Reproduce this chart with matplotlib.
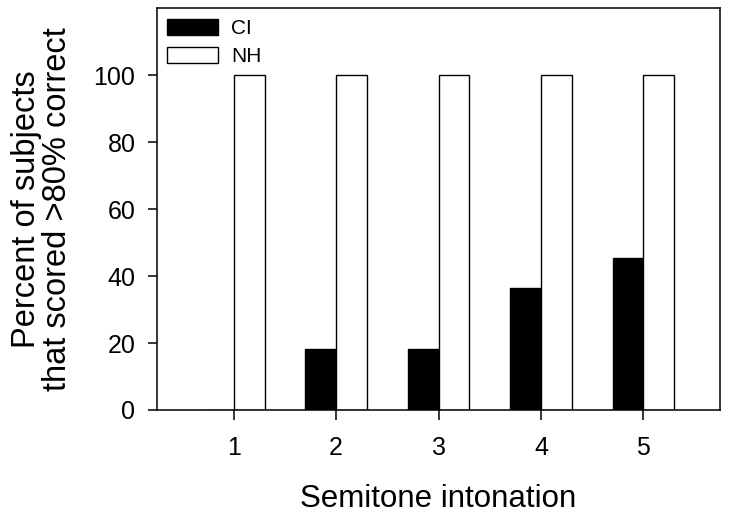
import numpy as np
import matplotlib.pyplot as plt

plt.rcParams['font.family'] = ['Liberation Sans', 'DejaVu Sans']

# data
semitones = [1, 2, 3, 4, 5]
ci_values = [0, 18.18, 18.18, 36.36, 45.45]
nh_values = [100, 100, 100, 100, 100]

if __name__ == "__main__":
    fig = plt.figure(figsize=(7.29, 5.18), dpi=100)
    ax = fig.add_axes([0.2154, 0.2085, 0.7723, 0.7755])

    x = np.array(semitones)
    width = 0.3
    ax.bar(x - width / 2, ci_values, width, color="black", edgecolor="black",
           linewidth=1.0, label="CI")
    ax.bar(x + width / 2, nh_values, width, color="white", edgecolor="black",
           linewidth=1.0, label="NH")

    ax.set_xlim(0.25, 5.75)
    ax.set_ylim(0, 120)
    ax.set_xticks(semitones)
    ax.set_yticks([0, 20, 40, 60, 80, 100])

    for s in ax.spines.values():
        s.set_linewidth(1.1)
    ax.tick_params(direction="out", width=1.1, labelsize=18)
    ax.tick_params(axis="x", length=7, pad=12)
    ax.tick_params(axis="y", length=6.5, pad=9)

    ax.set_xlabel("Semitone intonation", fontsize=22.5, labelpad=17)
    ax.set_ylabel("Percent of subjects\nthat scored >80% correct", fontsize=23.5,
                  labelpad=15, linespacing=1.0)

    ax.legend(loc="upper left", frameon=False, fontsize=15,
              handlelength=2.45, handleheight=0.8, borderaxespad=0.1,
              labelspacing=0.45, handletextpad=0.6)

    plt.savefig("out.png", dpi=100)
